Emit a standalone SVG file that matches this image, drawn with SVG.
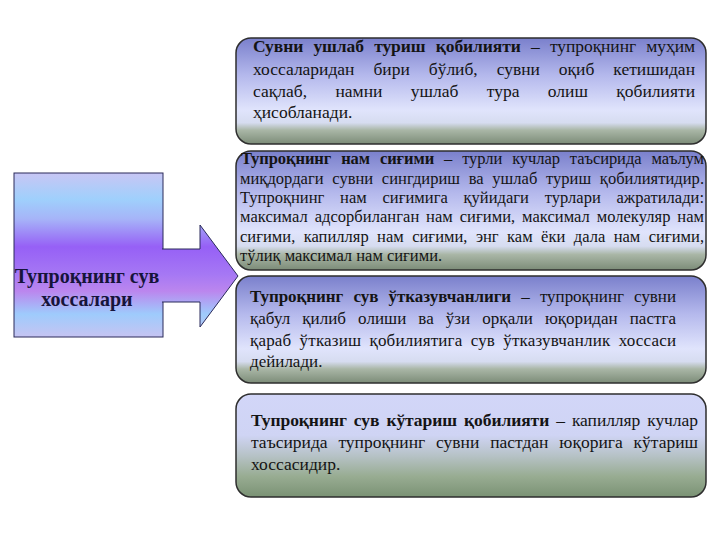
<svg xmlns="http://www.w3.org/2000/svg" width="720" height="540" viewBox="0 0 720 540">
<defs>
<linearGradient id="gMain" gradientUnits="userSpaceOnUse" x1="0" y1="173" x2="0" y2="337">
<stop offset="0" stop-color="#c8c6f4"/>
<stop offset="0.16" stop-color="#9fd0fc"/>
<stop offset="0.28" stop-color="#a6b4f8"/>
<stop offset="0.45" stop-color="#9660f6"/>
<stop offset="0.62" stop-color="#a678f4"/>
<stop offset="0.72" stop-color="#bb86ee"/>
<stop offset="0.86" stop-color="#9ecbfc"/>
<stop offset="1" stop-color="#c6c4f2"/>
</linearGradient>
<linearGradient id="gBox" x1="0" y1="0" x2="0" y2="1">
<stop offset="0" stop-color="#7a80cc"/>
<stop offset="0.35" stop-color="#b4b8ec"/>
<stop offset="0.68" stop-color="#e0e4fc"/>
<stop offset="0.8" stop-color="#d6dcf0"/>
<stop offset="0.87" stop-color="#a9b6a6"/>
<stop offset="1" stop-color="#7c8c78"/>
</linearGradient>
<linearGradient id="gBox4" x1="0" y1="0" x2="0" y2="1">
<stop offset="0" stop-color="#d2d6f8"/>
<stop offset="0.4" stop-color="#cfd4f4"/>
<stop offset="0.6" stop-color="#b6c2c6"/>
<stop offset="0.8" stop-color="#98ac92"/>
<stop offset="1" stop-color="#7a9274"/>
</linearGradient>
</defs>
<style>
.box{stroke:#2e2e2e;stroke-width:1.5}
.t{font-family:"Liberation Serif","Times New Roman",serif;fill:#141414}
.b{font-weight:bold}
.f1{font-size:17.5px}
.f2{font-size:16.5px}
.f3{font-size:17px}
.main{font-family:"Liberation Serif","Times New Roman",serif;font-size:20px;font-weight:bold;fill:#16143a;text-anchor:middle}
</style>
<rect width="720" height="540" fill="#ffffff"/>

<g id="node-main">
<rect x="14" y="173" width="149" height="164" fill="url(#gMain)" stroke="#2a2a5a" stroke-width="1"/>
</g>

<g id="connectors">
<path d="M162,249 L200,249 L200,225 L238,276 L200,327 L200,302 L162,302" fill="url(#gMain)" stroke="#2a2a5a" stroke-width="1"/>
</g>

<g id="node-main-label">
<text class="main" x="87" y="283">Тупроқнинг сув</text>
<text class="main" x="87" y="306">хоссалари</text>
</g>

<g id="node-1">
<rect class="box" x="236" y="38" width="470" height="106" rx="15" fill="url(#gBox)"/>
<text class="t f1" x="253" y="52" word-spacing="6" textLength="442" lengthAdjust="spacing"><tspan class="b">Сувни ушлаб туриш қобилияти</tspan> – тупроқнинг муҳим</text>
<text class="t f1" x="253" y="74.5" word-spacing="14.6" textLength="442" lengthAdjust="spacing">хоссаларидан бири бўлиб, сувни оқиб кетишидан</text>
<text class="t f1" x="253" y="96.5" word-spacing="24" textLength="442" lengthAdjust="spacing">сақлаб, намни ушлаб тура олиш қобилияти</text>
<text class="t f1" x="253" y="118">ҳисобланади.</text>
</g>

<g id="node-2">
<rect class="box" x="236" y="151" width="470" height="119" rx="15" fill="url(#gBox)"/>
<text class="t f2" x="241" y="164" word-spacing="5.9" textLength="463" lengthAdjust="spacing"><tspan class="b">Тупроқнинг нам сиғими</tspan> – турли кучлар таъсирида маълум</text>
<text class="t f2" x="240" y="183.5" word-spacing="4.5" textLength="464" lengthAdjust="spacing">миқдордаги сувни сингдириш ва ушлаб туриш қобилиятидир.</text>
<text class="t f2" x="240" y="203" word-spacing="11.6" textLength="464" lengthAdjust="spacing">Тупроқнинг нам сиғимига қуйидаги турлари ажратилади:</text>
<text class="t f2" x="240" y="222" word-spacing="2.7" textLength="464" lengthAdjust="spacing">максимал адсорбиланган нам сиғими, максимал молекуляр нам</text>
<text class="t f2" x="240" y="241.5" word-spacing="4.3" textLength="464" lengthAdjust="spacing">сиғими, капилляр нам сиғими, энг кам ёки дала нам сиғими,</text>
<text class="t f2" x="240" y="260.5">тўлиқ максимал нам сиғими.</text>
</g>

<g id="node-3">
<rect class="box" x="236" y="276" width="470" height="107" rx="15" fill="url(#gBox)"/>
<text class="t f3" x="250" y="302" word-spacing="6" textLength="426" lengthAdjust="spacing"><tspan class="b">Тупроқнинг сув ўтказувчанлиги</tspan> – тупроқнинг сувни</text>
<text class="t f3" x="250" y="323.5" word-spacing="7.8" textLength="426" lengthAdjust="spacing">қабул қилиб олиши ва ўзи орқали юқоридан пастга</text>
<text class="t f3" x="250" y="346" word-spacing="3.8" textLength="426" lengthAdjust="spacing">қараб ўтказиш қобилиятига сув ўтказувчанлик хоссаси</text>
<text class="t f3" x="250" y="367">дейилади.</text>
</g>

<g id="node-4">
<rect class="box" x="236" y="394" width="470" height="103" rx="15" fill="url(#gBox4)"/>
<text class="t f1" x="251" y="425.5" word-spacing="2.7" textLength="447" lengthAdjust="spacing"><tspan class="b">Тупроқнинг сув кўтариш қобилияти</tspan> – капилляр кучлар</text>
<text class="t f1" x="251" y="448" word-spacing="6.5" textLength="447" lengthAdjust="spacing">таъсирида тупроқнинг сувни пастдан юқорига кўтариш</text>
<text class="t f1" x="251" y="470">хоссасидир.</text>
</g>
</svg>
